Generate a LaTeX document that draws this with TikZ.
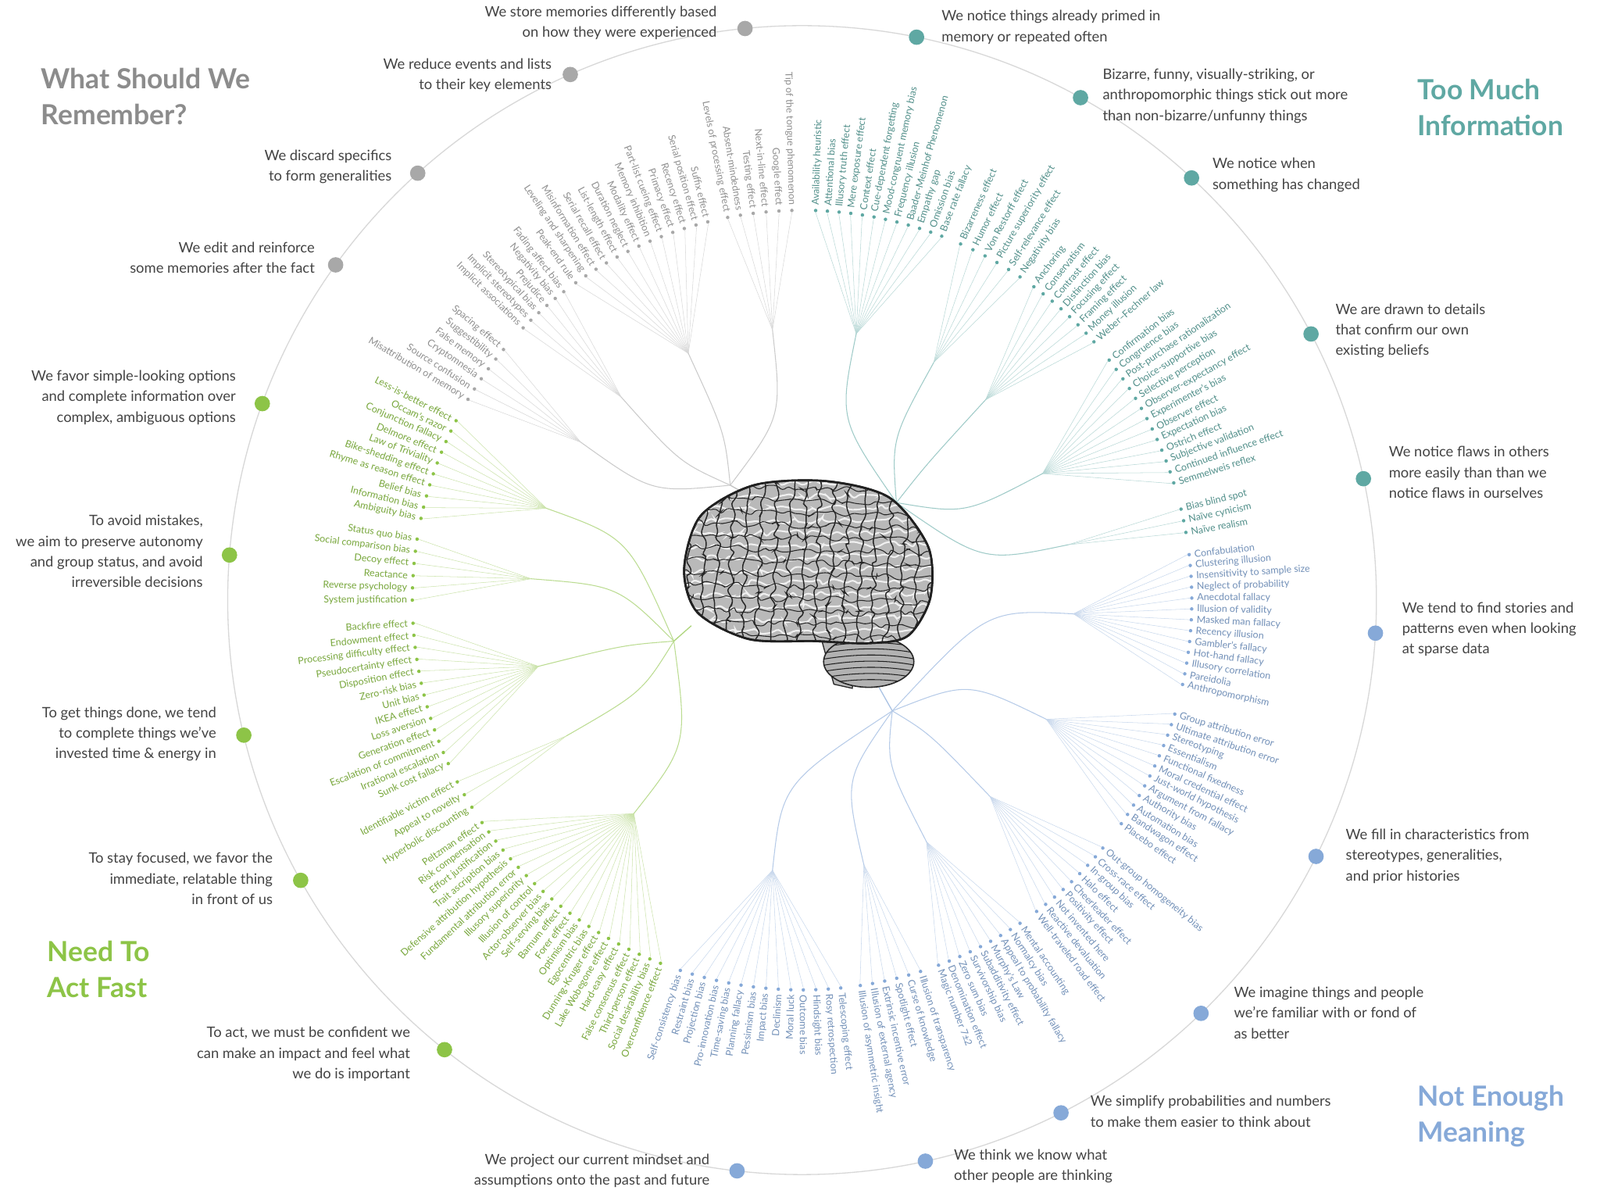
\documentclass[tikz,border=0pt]{standalone}
\usepackage{fontspec}
\setmainfont{Lato}
\usetikzlibrary{decorations.pathmorphing}
\definecolor{teal}{HTML}{5FA8A3}
\definecolor{blu}{HTML}{86A9D8}
\definecolor{grn}{HTML}{8DC447}
\definecolor{gry}{HTML}{A8A8A8}
\definecolor{tgry}{HTML}{8C8C8C}
\definecolor{txt}{HTML}{444444}
\tikzset{
 bias/.style={font=\fontsize{9.5}{9.5}\selectfont,inner sep=0pt},
 cat/.style={font=\fontsize{14}{20}\selectfont,text=txt,inner sep=0pt},
 title/.style={font=\fontsize{27}{35}\selectfont\bfseries,inner sep=0pt,align=left},
 cdot/.style={circle,inner sep=0pt,minimum size=15pt},
 groove/.style={gray!30!black,line width=1.1pt,rounded corners=2.5pt,decorate,decoration={random steps,segment length=6,amplitude=3.5}},
 ridge/.style={gray!12,line width=1.6pt,rounded corners=2.5pt,decorate,decoration={random steps,segment length=6,amplitude=3.5}},
}
\newcommand\biascluster[6]{% start,end,n,color,junction,list
 \pgfmathsetmacro\midang{(#1+#2)/2}
 \coordinate (hub) at (\midang:265);
 \foreach \t [count=\i from 0] in {#6} {
   \pgfmathsetmacro\aa{#1+(#2-#1)*\i/max(#3-1,1)}
   \pgfmathsetmacro\cosv{cos(\aa)}
   \draw[#4!45,line width=0.4pt] (hub) -- (\aa:378);
   \fill[#4] (\aa:380) circle (1.7);
   \ifdim\cosv pt>0pt
     \node[bias,text=#4!85!black,anchor=west,rotate=\aa] at (\aa:385) {\t};
   \else
     \pgfmathsetmacro\bb{\aa+180}
     \node[bias,text=#4!85!black,anchor=east,rotate=\bb] at (\aa:385) {\t};
   \fi
 }
 \draw[#4!60,line width=0.8pt] (hub) .. controls (\midang:180) .. (#5);
}
\begin{document}
\begin{tikzpicture}[x=1pt,y=1pt]
\useasboundingbox (0,0) rectangle (1560,1170);
\fill[white] (0,0) rectangle (1560,1170);
\begin{scope}[shift={(782,585)}]
\draw[gry!45,line width=1pt] (0,0) circle (560);
\coordinate (TL) at (-70,112);
\coordinate (TR) at (92,95);
\coordinate (BL) at (-125,-40);
\coordinate (BR) at (88,-108);
\biascluster{88}{69}{12}{teal}{TR}{Availability heuristic,Attentional bias,Illusory truth effect,Mere exposure effect,Context effect,Cue-dependent forgetting,Mood-congruent memory bias,Frequency illusion,Baader-Meinhof Phenomenon,Empathy gap,Omission bias,Base rate fallacy}
\biascluster{66}{56}{6}{teal}{TR}{Bizarreness effect,Humor effect,Von Restorff effect,Picture superiority effect,Self-relevance effect,Negativity bias}
\biascluster{53.5}{41.5}{8}{teal}{TR}{Anchoring,Conservatism,Contrast effect,Distinction bias,Focusing effect,Framing effect,Money illusion,Weber–Fechner law}
\biascluster{38}{17.5}{13}{teal}{TR}{Confirmation bias,Congruence bias,Post-purchase rationalization,Choice-supportive bias,Selective perception,Observer-expectancy effect,Experimenter's bias,Observer effect,Expectation bias,Ostrich effect,Subjective validation,Continued influence effect,Semmelweis reflex}
\biascluster{13.5}{10}{3}{teal}{TR}{Bias blind spot,Naïve cynicism,Naïve realism}
\biascluster{6.7}{-12.5}{13}{blu}{BR}{Confabulation,Clustering illusion,Insensitivity to sample size,Neglect of probability,Anecdotal fallacy,Illusion of validity,Masked man fallacy,Recency illusion,Gambler's fallacy,Hot-hand fallacy,Illusory correlation,Pareidolia,Anthropomorphism}
\biascluster{-17}{-35}{12}{blu}{BR}{Group attribution error,Ultimate attribution error,Stereotyping,Essentialism,Functional fixedness,Moral credential effect,Just-world hypothesis,Argument from fallacy,Authority bias,Automation bias,Bandwagon effect,Placebo effect}
\biascluster{-39.5}{-53}{9}{blu}{BR}{Out-group homogeneity bias,Cross-race effect,In-group bias,Halo effect,Cheerleader effect,Positivity effect,Not invented here,Reactive devaluation,Well-traveled road effect}
\biascluster{-56}{-69.5}{9}{blu}{BR}{Mental accounting,Normalcy bias,Appeal to probability fallacy,Murphy's Law,Subadditivity effect,Survivorship bias,Zero sum bias,Denomination effect,Magic number 7±2}
\biascluster{-72.3}{-81.4}{6}{blu}{BR}{Illusion of transparency,Curse of knowledge,Spotlight effect,Extrinsic incentive error,Illusion of external agency,Illusion of asymmetric insight}
\biascluster{-108.2}{-84.3}{14}{blu}{BR}{Self-consistency bias,Restraint bias,Projection bias,Pro-innovation bias,Time-saving bias,Planning fallacy,Pessimism bias,Impact bias,Declinism,Moral luck,Outcome bias,Hindsight bias,Rosy retrospection,Telescoping effect}
\biascluster{-111.3}{-145.2}{21}{grn}{BL}{Overconfidence effect,Social desirability bias,Third-person effect,False consensus effect,Hard-easy effect,Lake Wobegone effect,Dunning-Kruger effect,Egocentric bias,Optimism bias,Forer effect,Barnum effect,Self-serving bias,Actor-observer bias,Illusion of control,Illusory superiority,Fundamental attribution error,Defensive attribution hypothesis,Trait ascription bias,Effort justification,Risk compensation,Peltzman effect}
\biascluster{-152.2}{-147.9}{3}{grn}{BL}{Identifiable victim effect,Appeal to novelty,Hyperbolic discounting}
\biascluster{-176.6}{-155.2}{13}{grn}{BL}{Backfire effect,Endowment effect,Processing difficulty effect,Pseudocertainty effect,Disposition effect,Zero-risk bias,Unit bias,IKEA effect,Loss aversion,Generation effect,Escalation of commitment,Irrational escalation,Sunk cost fallacy}
\biascluster{171}{180}{6}{grn}{BL}{Status quo bias,Social comparison bias,Decoy effect,Reactance,Reverse psychology,System justification}
\biascluster{152.6}{167.9}{10}{grn}{BL}{Less-is-better effect,Occam's razor,Conjunction fallacy,Delmore effect,Law of Triviality,Bike-shedding effect,Rhyme as reason effect,Belief bias,Information bias,Ambiguity bias}
\biascluster{140}{149}{6}{gry}{TL}{Spacing effect,Suggestibility,False memory,Cryptomnesia,Source confusion,Misattribution of memory}
\biascluster{135.7}{127.7}{6}{gry}{TL}{Implicit associations,Implicit stereotypes,Stereotypical bias,Prejudice,Negativity bias,Fading affect bias}
\biascluster{125.5}{104}{13}{gry}{TL}{Peak-end rule,Leveling and sharpening,Misinformation effect,Serial recall effect,List-length effect,Duration neglect,Modality effect,Memory inhibition,Part-list cueing effect,Primacy effect,Recency effect,Serial position effect,Suffix effect}
\biascluster{101}{91.5}{6}{gry}{TL}{Levels of processing effect,Absent-mindedness,Testing effect,Next-in-line effect,Google effect,Tip of the tongue phenomenon}
% category dots
\foreach \ang/\col [count=\k] in {78.5/teal,61/teal,47.3/teal,27.6/teal,12.2/teal,-3.3/blu,-26.5/blu,-46/blu,-63.2/blu,-77.6/blu,-96.5/blu,-128.5/grn,-150.8/grn,-166.4/grn,175.5/grn,160/grn,144.3/gry,132/gry,113.8/gry,95.7/gry}
  \node[cdot,fill=\col] (c\k) at (\ang:560) {};
% junction stems
\draw[gry!70,line width=1pt] (TL) -- (-40,95);
\draw[teal!70,line width=1pt] (TR) -- (70,75);
\draw[grn!70,line width=1pt] (BL) -- (-108,-25);
\draw[blu!70,line width=1pt] (BR) -- (75,-85);
% brain
\begin{scope}[shift={(3,10)}]
\def\cerebrum{plot[smooth cycle] coordinates {(-118,20) (-102,72) (-50,102) (20,106) (82,90) (120,42) (122,-8) (100,-45) (62,-52) (10,-50) (-55,-48) (-105,-22)}}
% brain stem
\fill[gray!55,draw=gray!30!black,line width=1pt] (15,-45) -- (28,-92) -- (46,-96) -- (50,-50) -- cycle;
% cerebellum
\fill[gray!60,draw=gray!30!black,line width=1.2pt] (62,-70) ellipse (44 and 25);
\begin{scope}
\clip (62,-70) ellipse (44 and 25);
\foreach \yy in {-92,-86,...,-48} \draw[gray!25!black,line width=0.8pt] (15,\yy) .. controls (50,\yy+6) and (80,\yy+6) .. (110,\yy);
\end{scope}
\path[fill=gray!55,draw=gray!25!black,line width=2pt] \cerebrum;
\begin{scope}
\clip \cerebrum;
\foreach \yy in {-54,-42,...,110} \draw[ridge] (-125,\yy) -- (125,\yy+3);
\foreach \xx in {-118,-104,...,125} \draw[groove] (\xx,-60) -- (\xx+8,115);
\foreach \yy in {-48,-36,...,110} \draw[groove,line width=0.8pt] (-125,\yy+6) -- (125,\yy);
\end{scope}
\path[draw=gray!25!black,line width=2pt] \cerebrum;
\end{scope}
\end{scope}
% category labels
\node[cat,anchor=north west,align=left] at (918,1160) {We notice things already primed in\\memory or repeated often};
\node[cat,anchor=north west,align=left] at (1075,1103) {Bizarre, funny, visually-striking, or\\anthropomorphic things stick out more\\than non-bizarre/unfunny things};
\node[cat,anchor=north west,align=left] at (1182,1016) {We notice when\\something has changed};
\node[cat,anchor=north west,align=left] at (1302,874) {We are drawn to details\\that confirm our own\\existing beliefs};
\node[cat,anchor=north west,align=left] at (1354,735) {We notice flaws in others\\more easily than than we\\notice flaws in ourselves};
\node[cat,anchor=north west,align=left] at (1367,583) {We tend to find stories and\\patterns even when looking\\at sparse data};
\node[cat,anchor=north west,align=left] at (1312,362) {We fill in characteristics from\\stereotypes, generalities,\\and prior histories};
\node[cat,anchor=north west,align=left] at (1203,208) {We imagine things and people\\we're familiar with or fond of\\as better};
\node[cat,anchor=north west,align=left] at (1063,102) {We simplify probabilities and numbers\\to make them easier to think about};
\node[cat,anchor=north west,align=left] at (930,50) {We think we know what\\other people are thinking};
\node[cat,anchor=north east,align=right] at (692,45) {We project our current mindset and\\assumptions onto the past and future};
\node[cat,anchor=north east,align=right] at (400,169) {To act, we must be confident we\\can make an impact and feel what\\we do is important};
\node[cat,anchor=north east,align=right] at (266,339) {To stay focused, we favor the\\immediate, relatable thing\\in front of us};
\node[cat,anchor=north east,align=right] at (211,481) {To get things done, we tend\\to complete things we've\\invested time \& energy in};
\node[cat,anchor=north east,align=right] at (198,668) {To avoid mistakes,\\we aim to preserve autonomy\\and group status, and avoid\\irreversible decisions};
\node[cat,anchor=north east,align=right] at (230,809) {We favor simple-looking options\\and complete information over\\complex, ambiguous options};
\node[cat,anchor=north east,align=right] at (307,934) {We edit and reinforce\\some memories after the fact};
\node[cat,anchor=north east,align=right] at (382,1024) {We discard specifics\\to form generalities};
\node[cat,anchor=north east,align=right] at (538,1113) {We reduce events and lists\\to their key elements};
\node[cat,anchor=north east,align=right] at (699,1164) {We store memories differently based\\on how they were experienced};
% titles
\node[title,text=tgry,anchor=north west] (t1) at (40,1104) {What Should We\\Remember?};
\node[title,text=teal,anchor=north west] (t2) at (1382,1093) {Too Much\\Information};
\node[title,text=grn,anchor=north west] (t3) at (46,253) {Need To\\Act Fast};
\node[title,text=blu,anchor=north west] (t4) at (1382,112) {Not Enough\\Meaning};
\end{tikzpicture}
\end{document}
